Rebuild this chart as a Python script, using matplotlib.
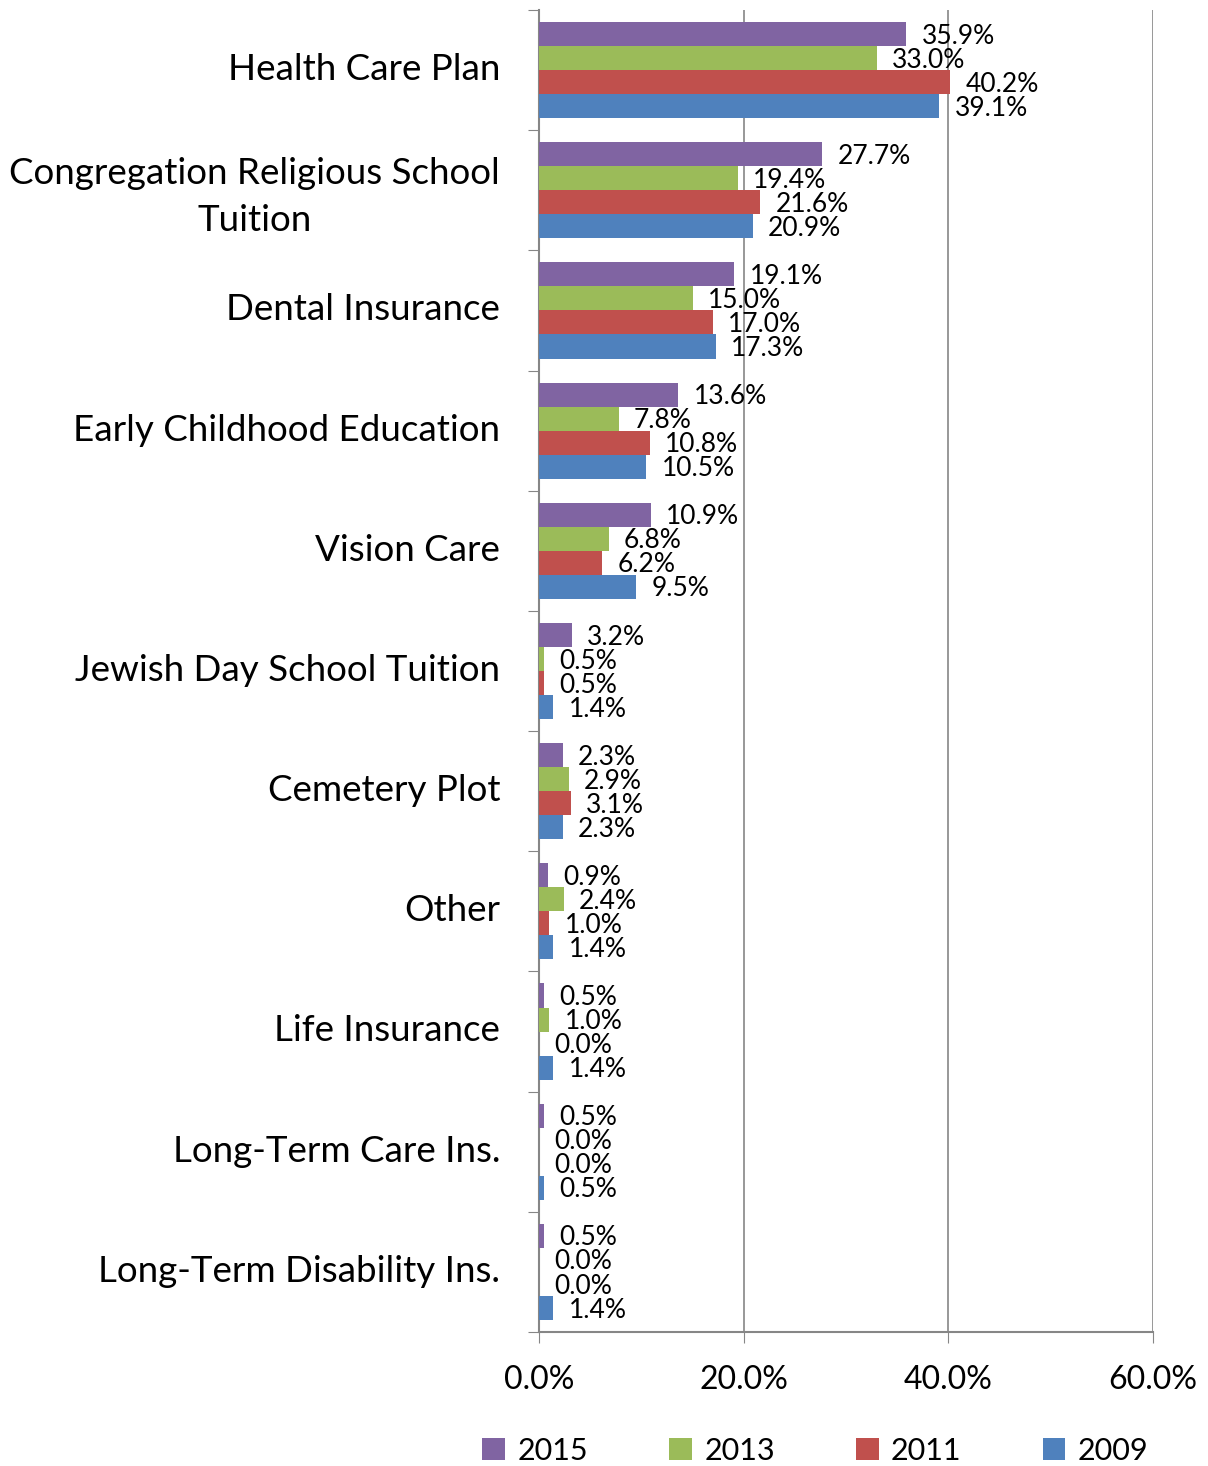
import matplotlib.pyplot as plt
import numpy as np

categories = [
    'Health Care Plan',
    'Congregation Religious School\nTuition',
    'Dental Insurance',
    'Early Childhood Education',
    'Vision Care',
    'Jewish Day School Tuition',
    'Cemetery Plot',
    'Other',
    'Life Insurance',
    'Long-Term Care Ins.',
    'Long-Term Disability Ins.',
]

years = ['2015', '2013', '2011', '2009']

vals_2015 = [35.9, 27.7, 19.1, 13.6, 10.9, 3.2, 2.3, 0.9, 0.5, 0.5, 0.5]
vals_2013 = [33.0, 19.4, 15.0, 7.8, 6.8, 0.5, 2.9, 2.4, 1.0, 0.0, 0.0]
vals_2011 = [40.2, 21.6, 17.0, 10.8, 6.2, 0.5, 3.1, 1.0, 0.0, 0.0, 0.0]
vals_2009 = [39.1, 20.9, 17.3, 10.5, 9.5, 1.4, 2.3, 1.4, 1.4, 0.5, 1.4]

colors = ['#8064A2', '#9BBB59', '#C0504D', '#4F81BD']

plt.rcParams['font.family'] = ['Lato', 'DejaVu Sans']

fig = plt.figure(figsize=(12.08, 14.66), dpi=100)
ax = fig.add_axes([0.4462, 0.0914, 0.5083, 0.9018])

y = np.arange(len(categories))
h = 0.2
offsets = [-0.3, -0.1, 0.1, 0.3]
series = [vals_2015, vals_2013, vals_2011, vals_2009]

for vals, off, col, yr in zip(series, offsets, colors, years):
    ax.barh(y + off, vals, height=h, color=col, label=yr, zorder=3)
    for yi, v in zip(y, vals):
        ax.annotate(f'{v:.1f}%', xy=(v, yi + off), xytext=(11, -1.5),
                    textcoords='offset points', ha='left', va='center',
                    fontsize=19, color='black', zorder=4)

ax.set_xlim(0, 60)
ax.set_ylim(len(categories) - 0.5, -0.5)

ax.set_xticks([0, 20, 40, 60])
ax.set_xticklabels(['0.0%', '20.0%', '40.0%', '60.0%'], fontsize=23)
ax.tick_params(axis='x', direction='out', length=8, color='#868686', pad=16)

# boundary ticks between categories, labels at category centres
ax.set_yticks(np.arange(-0.5, len(categories), 1.0))
ax.set_yticklabels([])
ax.tick_params(axis='y', which='major', direction='out', length=8, color='#868686')
ax.set_yticks(y - 0.03, minor=True)
ax.set_yticklabels(categories, minor=True, fontsize=26.5, ha='right',
                   multialignment='center', linespacing=1.55)
ax.tick_params(axis='y', which='minor', length=0, pad=28)

ax.grid(axis='x', color='#868686', linewidth=1.2, zorder=0)
for side in ['top', 'right']:
    ax.spines[side].set_visible(False)
for side in ['left', 'bottom']:
    ax.spines[side].set_color('#868686')
    ax.spines[side].set_linewidth(1.5)

fig.legend(loc='lower center', bbox_to_anchor=(0.675, -0.018), ncol=4,
           frameon=False, fontsize=22, handlelength=0.75, handleheight=0.75,
           handletextpad=0.4, columnspacing=2.65)

fig.savefig('out.png', dpi=100)
